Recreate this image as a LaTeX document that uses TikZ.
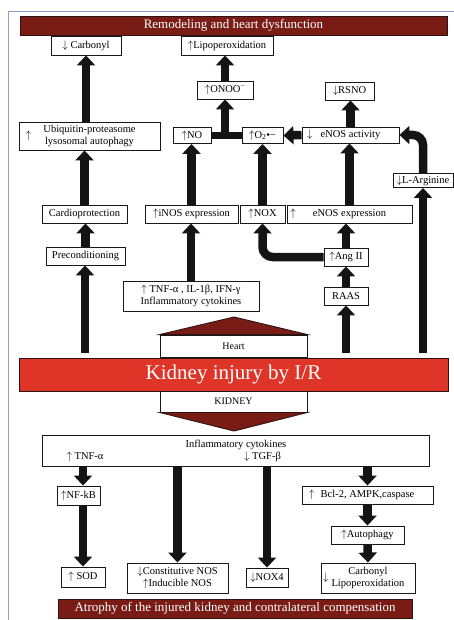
\documentclass[tikz,border=0pt]{standalone}
\usepackage{fontspec}
\setmainfont{Liberation Serif}
\usetikzlibrary{arrows.meta}
\newcommand{\up}{$\uparrow$}
\newcommand{\dn}{$\downarrow$}
\begin{document}
\begin{tikzpicture}[x=1pt,y=-1pt,
  box/.style={draw={rgb,255:red,25;green,25;blue,25}, line width=0.9pt, fill=white, inner sep=0pt, minimum height=18pt, font=\fontsize{10.5}{12}\selectfont},
  lbl/.style={inner sep=0pt, font=\fontsize{10.5}{12}\selectfont},
  banner/.style={draw={rgb,255:red,45;green,20;blue,18}, line width=0.9pt, fill={rgb,255:red,122;green,28;blue,22}, text=white, inner sep=0pt, font=\fontsize{13}{15}\selectfont},
  arr/.style={draw={rgb,255:red,20;green,20;blue,20}, line width=8.5pt, -{Triangle[width=18pt,length=10pt]}},
  bar/.style={draw={rgb,255:red,20;green,20;blue,20}, line width=7pt}]
\useasboundingbox (0,0) rectangle (454,620);
\draw[color={rgb,255:red,140;green,158;blue,200}, line width=1pt] (8,620) -- (8,12) -- (454,12);
% heart side
\node[banner, minimum width=427pt, minimum height=19pt] (remod) at (233.5,25.5) {Remodeling and heart dysfunction};
\node[box, minimum width=70pt, minimum height=19pt] (carb) at (86,45.5) {\dn\ Carbonyl};
\node[box, minimum width=92pt, minimum height=19pt] (lipo) at (227,45.5) {\up Lipoperoxidation};
\node[box, minimum width=56pt] (onoo) at (225,90) {\up ONOO\textsuperscript{−}};
\node[box, minimum width=49pt] (rsno) at (349.5,91) {\dn RSNO};
\node[box, minimum width=141pt, minimum height=28pt] (ubiq) at (89.5,136) {\makebox[0pt][r]{\up\hspace{12pt}}\begin{tabular}{@{}c@{}}Ubiquitin-proteasome\\lysosomal autophagy\end{tabular}};
\node[box, minimum width=38pt, minimum height=16pt] (no) at (192,135.5) {\up NO};
\node[box, minimum width=41pt, minimum height=16pt] (otwo) at (262.5,135.5) {\up O\textsubscript{2}•−};
\node[box, minimum width=97pt, minimum height=16pt] (enosact) at (350.5,135) {\makebox[0pt][r]{\dn\hspace{8pt}}eNOS activity};
\node[box, minimum width=60pt, minimum height=14pt] (larg) at (423,180.5) {\dn L-Arginine};
\node[box, minimum width=85pt] (cardio) at (84.5,214) {Cardioprotection};
\node[box, minimum width=93pt] (inos) at (191.5,214) {\up iNOS expression};
\node[box, minimum width=45pt] (nox) at (262.5,214) {\up NOX};
\node[box, minimum width=125pt] (enosexp) at (349.5,214) {\makebox[0pt][r]{\up\hspace{17pt}}eNOS expression};
\node[box, minimum width=79pt] (precond) at (85.5,256) {Preconditioning};
\node[box, minimum width=44pt] (angii) at (346,257) {\up Ang II};
\node[box, minimum width=136pt, minimum height=30pt] (tnf) at (191,296) {\begin{tabular}{@{}c@{}}\up\ TNF-α , IL-1β, IFN-γ\\Inflammatory cytokines\end{tabular}};
\node[box, minimum width=44pt] (raas) at (346,296) {RAAS};
% kidney
\node[banner, minimum width=429pt, minimum height=33pt, fill={rgb,255:red,222;green,53;blue,40}, font=\fontsize{21}{24}\selectfont] (kid) at (233.5,374.5) {Kidney injury by I/R};
\node[box, minimum width=147pt, minimum height=22pt, font=\fontsize{10}{12}\selectfont] (heart) at (233.5,346) {Heart};
\node[box, minimum width=147pt, minimum height=21pt, font=\fontsize{10}{12}\selectfont] (kbox) at (233.5,401.5) {KIDNEY};
\coordinate (htop) at (234,317);
\coordinate (kbot) at (234,431);
\filldraw[fill={rgb,255:red,122;green,28;blue,22}, draw={rgb,255:red,45;green,20;blue,18}, line width=0.9pt] (heart.north west) -- (htop) -- (heart.north east) -- cycle;
\filldraw[fill={rgb,255:red,122;green,28;blue,22}, draw={rgb,255:red,45;green,20;blue,18}, line width=0.9pt] (kbox.south west) -- (kbot) -- (kbox.south east) -- cycle;
\coordinate (k1) at (85,353);
\coordinate (k2) at (346,353);
\coordinate (k3) at (423,353);
% kidney side
\node[box, minimum width=387pt, minimum height=31pt] (infl) at (235.5,450.5) {};
\node[lbl] (infltxt) at (236,445) {Inflammatory cytokines};
\node[lbl] (tnfa) at (85,457) {\up\ TNF-α};
\node[lbl] (tgfb) at (262.5,457) {\dn\ TGF-β};
\node[box, minimum width=43pt, minimum height=19pt] (nfkb) at (78.5,495.5) {\up NF-kB};
\node[box, minimum width=131pt] (bcl) at (367.5,495) {\makebox[0pt][r]{\up\hspace{6pt}}Bcl-2, AMPK,caspase};
\node[box, minimum width=73pt] (autoph) at (367.5,535) {\up Autophagy};
\node[box, minimum width=44pt, minimum height=20pt] (sod) at (83,577) {\up\ SOD};
\node[box, minimum width=101pt, minimum height=30pt] (cnos) at (177.5,578) {\begin{tabular}{@{}c@{}}\dn Constitutive NOS\\\up Inducible NOS\end{tabular}};
\node[box, minimum width=42pt, minimum height=19pt] (nox4) at (267,577.5) {\dn NOX4};
\node[box, minimum width=94pt, minimum height=30pt] (carblip) at (368,578) {\makebox[0pt][r]{\dn\hspace{3pt}}\begin{tabular}{@{}c@{}}Carbonyl\\Lipoperoxidation\end{tabular}};
\node[banner, minimum width=354pt, minimum height=19pt] (atrophy) at (235,608.5) {Atrophy of the injured kidney and contralateral compensation};
% arrows up
\draw[arr] (k1) -- (k1 |- precond.south);
\draw[arr] (precond.north) -- (precond.north |- cardio.south);
\draw[arr] (cardio.north) -- (cardio.north |- ubiq.south);
\draw[arr] (carb.south |- ubiq.north) -- (carb.south);
\draw[arr] (tnf.north) -- (tnf.north |- inos.south);
\draw[arr] (inos.north) -- (inos.north |- no.south);
\draw[arr] (nox.north) -- (nox.north |- otwo.south);
\draw[bar] (no.east) -- (otwo.west);
\draw[arr] (onoo.south |- no.east) -- (onoo.south);
\draw[arr] (onoo.north) -- (onoo.north |- lipo.south);
\draw[arr] (enosact.west) -- (otwo.east);
\draw[arr] (enosact.north) -- (enosact.north |- rsno.south);
\draw[arr] (enosexp.north) -- (enosexp.north |- enosact.south);
\draw[arr, rounded corners=10pt] (larg.north) |- (enosact.east);
\draw[arr] (k3) -- (larg.south);
\draw[arr] (k2) -- (raas.south);
\draw[arr] (raas.north) -- (angii.south);
\draw[arr] (angii.north) -- (angii.north |- enosexp.south);
\draw[arr, rounded corners=10pt] (angii.west) -| (nox.south);
% arrows down
\draw[arr] (infl.south -| sod.north) -- (sod.north |- nfkb.north);
\draw[arr] (sod.north |- nfkb.south) -- (sod.north);
\draw[arr] (infl.south -| cnos.north) -- (cnos.north);
\draw[arr] (infl.south -| nox4.north) -- (nox4.north);
\draw[arr] (infl.south -| bcl.north) -- (bcl.north);
\draw[arr] (bcl.south) -- (autoph.north);
\draw[arr] (autoph.south) -- (carblip.north);
\end{tikzpicture}
\end{document}
